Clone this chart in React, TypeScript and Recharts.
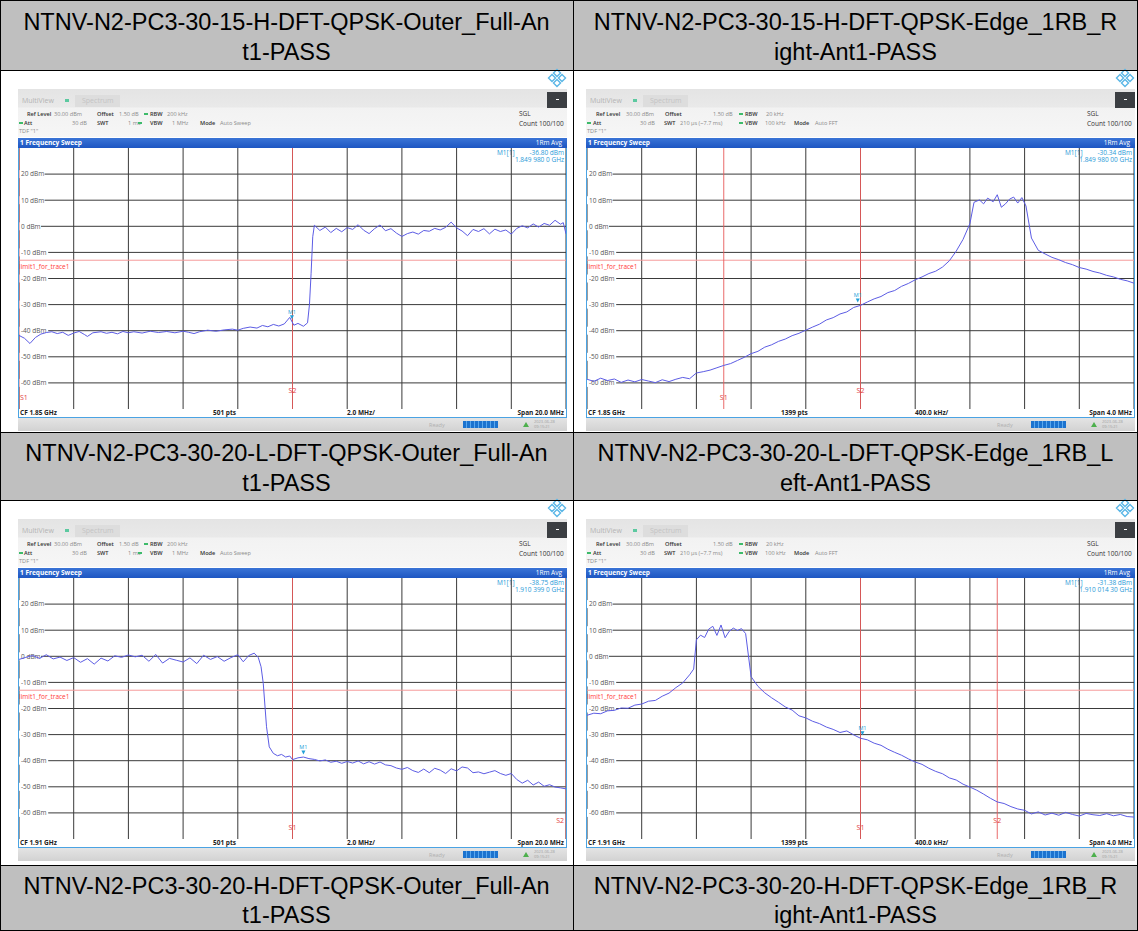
import React from "react";
import { LineChart, Line, XAxis, YAxis, ReferenceLine, ReferenceDot } from "recharts";

// ---------- data ----------
const levelTicks = [20, 10, 0, -10, -20, -30, -40, -50, -60];
const limitLevel = -13;

const ticksWide185 = [1840, 1842, 1844, 1846, 1848, 1850, 1852, 1854, 1856, 1858, 1860];
const ticksNarrow185 = [1848, 1848.4, 1848.8, 1849.2, 1849.6, 1850, 1850.4, 1850.8, 1851.2, 1851.6, 1852];
const ticksWide191 = [1900, 1902, 1904, 1906, 1908, 1910, 1912, 1914, 1916, 1918, 1920];
const ticksNarrow191 = [1908, 1908.4, 1908.8, 1909.2, 1909.6, 1910, 1910.4, 1910.8, 1911.2, 1911.6, 1912];

const titles = [
  ["NTNV-N2-PC3-30-15-H-DFT-QPSK-Outer_Full-An", "t1-PASS"],
  ["NTNV-N2-PC3-30-15-H-DFT-QPSK-Edge_1RB_R", "ight-Ant1-PASS"],
  ["NTNV-N2-PC3-30-20-L-DFT-QPSK-Outer_Full-An", "t1-PASS"],
  ["NTNV-N2-PC3-30-20-L-DFT-QPSK-Edge_1RB_L", "eft-Ant1-PASS"],
  ["NTNV-N2-PC3-30-20-H-DFT-QPSK-Outer_Full-An", "t1-PASS"],
  ["NTNV-N2-PC3-30-20-H-DFT-QPSK-Edge_1RB_R", "ight-Ant1-PASS"],
];

// panel 1: 1.85 GHz, full allocation, 20 MHz span
const p1Freq = [
  1840.0, 1840.2, 1840.4, 1840.6, 1840.8, 1841.0, 1841.2, 1841.4, 1841.6, 1841.8,
  1842.0, 1842.2, 1842.4, 1842.5, 1842.7, 1843.0, 1843.2, 1843.4, 1843.6, 1843.8,
  1844.0, 1844.2, 1844.5, 1844.8, 1845.1, 1845.4, 1845.7, 1846.0, 1846.2, 1846.4,
  1846.6, 1846.9, 1847.2, 1847.5, 1847.8, 1848.0, 1848.2, 1848.45, 1848.7, 1848.9,
  1849.1, 1849.3, 1849.5, 1849.7, 1849.9, 1850.05, 1850.2, 1850.4, 1850.55, 1850.62,
  1850.68, 1850.74, 1850.8, 1851.0, 1851.2, 1851.4, 1851.6, 1851.8, 1852.0, 1852.2,
  1852.4, 1852.6, 1852.8, 1853.0, 1853.2, 1853.4, 1853.6, 1853.8, 1854.0, 1854.2,
  1854.4, 1854.6, 1854.8, 1855.0, 1855.2, 1855.4, 1855.6, 1855.8, 1856.0, 1856.2,
  1856.4, 1856.6, 1856.8, 1857.0, 1857.2, 1857.4, 1857.6, 1857.8, 1858.0, 1858.2,
  1858.4, 1858.6, 1858.8, 1859.0, 1859.2, 1859.4, 1859.6, 1859.8, 1859.9, 1860.0,
];
const p1Level = [
  -41.8, -42.9, -44.9, -42.6, -41.3, -40.7, -40.4, -41.1, -40.6, -41.8,
  -40.9, -40.3, -41.5, -42.2, -40.8, -40.4, -41.0, -40.6, -41.2, -40.3,
  -40.8, -40.4, -40.9, -40.2, -40.7, -40.3, -40.8, -40.2, -40.6, -41.1,
  -40.4, -39.8, -40.2, -39.7, -39.4, -39.8, -39.1, -38.6, -39.0, -38.0,
  -38.5, -37.6, -38.2, -37.4, -34.9, -37.9, -37.2, -38.3, -37.0, -30.0,
  -18.0, -4.0, 0.4, -1.6, -0.3, -2.4, -0.8, -2.1, -0.5, -1.2,
  0.6, -1.5, -2.8, -0.9, 0.5, -1.7, -0.9, -2.6, -3.9, -2.8,
  -2.2, -3.0, -1.6, -1.9, -0.8, -1.4, -0.4, 1.6, -0.6, -1.8,
  -3.6, -1.2, -2.0, -0.9, -2.9, -1.1, -2.0, -1.4, -3.0, -0.8,
  0.2, -0.6, 0.9, -0.3, 1.1, 0.4, 2.3, 0.8, 1.4, -2.9,
];

// panel 2: 1.85 GHz, 1 RB at right edge, 4 MHz span
const p2Freq = [
  1848.0, 1848.05, 1848.1, 1848.15, 1848.2, 1848.25, 1848.3, 1848.35, 1848.4, 1848.45,
  1848.5, 1848.55, 1848.6, 1848.65, 1848.7, 1848.75, 1848.8, 1848.85, 1848.9, 1848.95,
  1849.0, 1849.05, 1849.1, 1849.15, 1849.2, 1849.25, 1849.3, 1849.35, 1849.4, 1849.45,
  1849.5, 1849.55, 1849.6, 1849.65, 1849.7, 1849.75, 1849.8, 1849.85, 1849.9, 1849.95,
  1850.0, 1850.05, 1850.1, 1850.15, 1850.2, 1850.25, 1850.3, 1850.35, 1850.4, 1850.45,
  1850.5, 1850.55, 1850.6, 1850.65, 1850.7, 1850.75, 1850.8, 1850.83, 1850.87, 1850.9,
  1850.93, 1850.97, 1851.0, 1851.03, 1851.06, 1851.09, 1851.12, 1851.15, 1851.18, 1851.21,
  1851.25, 1851.3, 1851.35, 1851.4, 1851.45, 1851.5, 1851.55, 1851.6, 1851.65, 1851.7,
  1851.75, 1851.8, 1851.85, 1851.9, 1851.95, 1852.0,
];
const p2Level = [
  -58.6, -59.4, -58.2, -59.1, -58.5, -59.8, -58.9, -59.6, -58.7, -59.3,
  -59.9, -58.8, -59.5, -58.6, -57.9, -58.4, -56.2, -55.7, -55.1, -54.2,
  -53.3, -52.6, -51.4, -50.2, -48.8, -47.9, -46.3, -45.4, -44.1, -43.2,
  -41.9, -41.0, -39.8, -38.6, -37.5, -35.9, -35.0, -33.6, -32.8, -31.1,
  -30.3, -29.0, -27.8, -26.9, -25.4, -24.6, -23.0, -21.9, -20.5, -19.4,
  -18.1, -17.2, -15.6, -13.2, -9.5, -5.0, 1.0, 9.2, 10.1, 8.6,
  10.8, 9.4, 12.1, 7.3, 8.6, 10.4, 11.2, 8.9, 11.0, 7.8,
  -4.5, -9.2, -10.6, -11.9, -12.8, -13.9, -14.7, -15.8, -16.4, -17.3,
  -17.9, -18.8, -19.4, -20.3, -20.9, -21.8,
];

// panel 3: 1.91 GHz, full allocation, 20 MHz span
const p3Freq = [
  1900.0, 1900.25, 1900.5, 1900.75, 1901.0, 1901.25, 1901.5, 1901.75, 1902.0, 1902.25,
  1902.5, 1902.75, 1903.0, 1903.25, 1903.5, 1903.75, 1904.0, 1904.25, 1904.5, 1904.75,
  1905.0, 1905.25, 1905.5, 1905.75, 1906.0, 1906.25, 1906.5, 1906.75, 1907.0, 1907.25,
  1907.5, 1907.75, 1908.0, 1908.2, 1908.4, 1908.6, 1908.75, 1908.85, 1908.93, 1909.0,
  1909.05, 1909.15, 1909.3, 1909.45, 1909.6, 1909.75, 1909.9, 1910.0, 1910.2, 1910.4,
  1910.6, 1910.8, 1911.0, 1911.2, 1911.4, 1911.6, 1911.8, 1912.0, 1912.2, 1912.4,
  1912.6, 1912.8, 1913.0, 1913.2, 1913.4, 1913.6, 1913.8, 1914.0, 1914.2, 1914.4,
  1914.6, 1914.8, 1915.0, 1915.2, 1915.4, 1915.6, 1915.8, 1916.0, 1916.2, 1916.4,
  1916.6, 1916.8, 1917.0, 1917.2, 1917.4, 1917.6, 1917.8, 1918.0, 1918.2, 1918.4,
  1918.6, 1918.8, 1919.0, 1919.2, 1919.4, 1919.6, 1919.8, 1920.0,
];
const p3Level = [
  -1.2, -0.4, 0.3, -0.8, 0.6, -1.0, -0.3, -1.6, -0.5, -2.3,
  -0.9, -3.0, -0.7, -1.8, 0.2, -0.4, 0.5, -0.2, 0.4, -1.9,
  0.7, -2.6, -0.8, -1.5, -2.2, -0.6, -2.8, 0.4, -1.2, -0.1,
  -1.9, -0.5, 0.6, -2.1, 0.3, 1.2, -0.5, -4.0, -10.3, -20.0,
  -27.0, -34.7, -37.2, -38.1, -37.6, -38.6, -38.2, -39.6, -38.9, -38.6,
  -39.2, -39.5, -40.1, -39.7, -40.6, -40.2, -41.0, -40.3, -40.9, -40.1,
  -41.2, -40.4, -41.3, -40.5, -41.6, -41.9, -42.8, -43.3, -42.6, -43.8,
  -44.5, -43.2, -44.6, -42.9, -43.6, -44.9, -43.1, -43.9, -42.4, -42.8,
  -44.6, -44.3, -45.0, -44.4, -43.8, -44.9, -45.6, -44.9, -47.2, -48.6,
  -47.5, -49.3, -48.2, -49.8, -49.2, -50.1, -50.4, -50.8,
];

// panel 4: 1.91 GHz, 1 RB at left edge, 4 MHz span
const p4Freq = [
  1908.0, 1908.05, 1908.1, 1908.15, 1908.2, 1908.25, 1908.3, 1908.35, 1908.4, 1908.45,
  1908.5, 1908.55, 1908.6, 1908.65, 1908.7, 1908.75, 1908.78, 1908.8, 1908.83, 1908.86,
  1908.89, 1908.92, 1908.95, 1908.98, 1909.01, 1909.04, 1909.07, 1909.1, 1909.13, 1909.16,
  1909.2, 1909.25, 1909.3, 1909.35, 1909.4, 1909.45, 1909.5, 1909.55, 1909.6, 1909.65,
  1909.7, 1909.75, 1909.8, 1909.85, 1909.9, 1909.95, 1910.0, 1910.05, 1910.1, 1910.15,
  1910.2, 1910.25, 1910.3, 1910.35, 1910.4, 1910.45, 1910.5, 1910.55, 1910.6, 1910.65,
  1910.7, 1910.75, 1910.8, 1910.85, 1910.9, 1910.95, 1911.0, 1911.05, 1911.1, 1911.15,
  1911.2, 1911.25, 1911.3, 1911.35, 1911.4, 1911.45, 1911.5, 1911.55, 1911.6, 1911.65,
  1911.7, 1911.75, 1911.8, 1911.85, 1911.9, 1911.95, 1912.0,
];
const p4Level = [
  -22.6, -21.8, -22.0, -20.9, -20.7, -19.8, -19.9, -18.7, -18.3, -17.2,
  -16.9, -15.3, -14.1, -12.0, -10.2, -7.1, -4.9, 6.3, 8.1, 7.2,
  10.4, 11.5, 8.0, 12.0, 7.1, 9.6, 10.8, 9.9, 10.6, 8.7,
  -7.8, -11.5, -14.0, -15.9, -17.6, -19.4, -20.6, -22.8, -23.6, -24.9,
  -25.8, -27.1, -28.0, -29.2, -28.6, -30.1, -31.4, -32.0, -33.3, -34.1,
  -35.6, -36.8, -37.9, -39.3, -40.5, -41.4, -42.9, -44.1, -45.0, -46.6,
  -47.4, -49.0, -50.1, -51.3, -52.8, -54.4, -55.8, -56.4, -57.6, -58.5,
  -59.0, -60.4, -59.6, -60.8, -60.1, -60.9, -59.8, -60.6, -61.2, -60.2,
  -60.7, -61.0, -60.3, -61.1, -60.6, -61.4, -61.6,
];

// ---------- panel settings (built from the arrays above) ----------
const wideSettings = {
  ref: [
    { t: "Ref Level", b: true, x: 9 }, { t: "30.00 dBm", x: 36 }, { t: "Offset", b: true, x: 79 },
    { t: "1.50 dB", x: 101 }, { dot: true, x: 126 }, { t: "RBW", b: true, x: 132 }, { t: "200 kHz", x: 149 },
  ],
  att: [
    { dot: true, x: 1 }, { t: "Att", b: true, x: 6 }, { t: "30 dB", x: 54 }, { t: "SWT", b: true, x: 79 },
    { t: "1 ms", x: 110 }, { dot: true, x: 120 }, { t: "VBW", b: true, x: 132 }, { t: "1 MHz", x: 154 },
    { t: "Mode", b: true, x: 182 }, { t: "Auto Sweep", x: 202 },
  ],
  pts: "501 pts",
  perDiv: "2.0 MHz/",
  span: "Span 20.0 MHz",
};
const narrowSettings = {
  ref: [
    { t: "Ref Level", b: true, x: 10 }, { t: "30.00 dBm", x: 40 }, { t: "Offset", b: true, x: 79 },
    { t: "1.50 dB", x: 127 }, { dot: true, x: 153 }, { t: "RBW", b: true, x: 159 }, { t: "20 kHz", x: 180 },
  ],
  att: [
    { dot: true, x: 1 }, { t: "Att", b: true, x: 7 }, { t: "30 dB", x: 54 }, { t: "SWT", b: true, x: 78 },
    { t: "210 µs (~7.7 ms)", x: 94 }, { dot: true, x: 153 }, { t: "VBW", b: true, x: 159 },
    { t: "100 kHz", x: 179 }, { t: "Mode", b: true, x: 208 }, { t: "Auto FFT", x: 229 },
  ],
  pts: "1399 pts",
  perDiv: "400.0 kHz/",
  span: "Span 4.0 MHz",
};

const panels = [
  {
    ...wideSettings, left: 18, top: 70, lo: 1840, hi: 1860, ticks: ticksWide185, freq: p1Freq, level: p1Level,
    s1: 1840, s2: 1850, marker: [1849.98, -36.8], mVal: "-36.80 dBm", mFreq: "1.849 980 0 GHz", cf: "CF 1.85 GHz",
  },
  {
    ...narrowSettings, left: 586, top: 70, lo: 1848, hi: 1852, ticks: ticksNarrow185, freq: p2Freq, level: p2Level,
    s1: 1849, s2: 1850, marker: [1849.98, -30.34], mVal: "-30.34 dBm", mFreq: "1.849 980 00 GHz", cf: "CF 1.85 GHz",
  },
  {
    ...wideSettings, left: 18, top: 500, lo: 1900, hi: 1920, ticks: ticksWide191, freq: p3Freq, level: p3Level,
    s1: 1910, s2: 1920, marker: [1910.399, -38.75], mVal: "-38.75 dBm", mFreq: "1.910 399 0 GHz", cf: "CF 1.91 GHz",
  },
  {
    ...narrowSettings, left: 586, top: 500, lo: 1908, hi: 1912, ticks: ticksNarrow191, freq: p4Freq, level: p4Level,
    s1: 1910, s2: 1911, marker: [1910.0143, -31.38], mVal: "-31.38 dBm", mFreq: "1.910 014 30 GHz", cf: "CF 1.91 GHz",
  },
];

// ---------- small svg pieces ----------
function DbLabel(props: any) {
  const vb = props.viewBox || {};
  const w = props.text.length * 3.6 + 4;
  return (
    <g>
      <rect x={vb.x} y={vb.y - 4} width={w} height={8} fill="#ffffff" />
      <text x={vb.x + 2} y={vb.y + 2.3} fontSize={6.5} fill="#555" fontFamily='"Open Sans", sans-serif'>
        {props.text}
      </text>
    </g>
  );
}

function LimitLabel(props: any) {
  const vb = props.viewBox || {};
  return (
    <text x={vb.x} y={vb.y + 8.5} fontSize={6.5} fill="#ff3a3a" fontFamily='"Open Sans", sans-serif'>
      limit1_for_trace1
    </text>
  );
}

function SLabel(props: any) {
  const vb = props.viewBox || {};
  const edge = props.edge;
  const anchor = edge === "left" ? "start" : edge === "right" ? "end" : "middle";
  const dx = edge === "left" ? 1 : edge === "right" ? -2 : 0;
  return (
    <text x={vb.x + dx} y={vb.y + vb.height - props.lift} fontSize={7} fill="#e23c3c" textAnchor={anchor}
      fontFamily='"Open Sans", sans-serif'>
      {props.text}
    </text>
  );
}

function MarkerShape(props: any) {
  const { cx, cy } = props;
  return (
    <g>
      <polygon points={`${cx - 2},${cy - 7} ${cx + 2},${cy - 7} ${cx},${cy - 3}`} fill="#22a0d8" />
      <text x={cx} y={cy - 8.5} fontSize={5.5} fill="#22a0d8" textAnchor="middle" fontFamily='"Open Sans", sans-serif'>
        M1
      </text>
    </g>
  );
}

function Logo() {
  const c = "#59b6e6";
  const d = (x: number, y: number) => `${x},${y - 3.5} ${x + 3.5},${y} ${x},${y + 3.5} ${x - 3.5},${y}`;
  return (
    <svg width={20} height={20} style={{ position: "absolute", left: 529, top: -2 }}>
      <polygon points={d(10, 5)} fill="none" stroke={c} strokeWidth={1.4} />
      <polygon points={d(5, 10)} fill="none" stroke={c} strokeWidth={1.4} />
      <polygon points={d(15, 10)} fill="none" stroke={c} strokeWidth={1.4} />
      <polygon points={d(10, 15)} fill="none" stroke={c} strokeWidth={1.4} />
    </svg>
  );
}

// ---------- one analyzer screenshot ----------
function Analyzer({ p }: { p: any }) {
  const data = p.freq.map((f: number, i: number) => ({ f, v: p.level[i] }));
  const txt: React.CSSProperties = { position: "absolute", fontSize: 6.5, lineHeight: "8px", whiteSpace: "nowrap" };
  const row = (items: any[], top: number) =>
    items.map((it, i) =>
      it.dot ? (
        <div key={i} style={{ position: "absolute", left: it.x, top: top + 3, width: 4, height: 2, background: "#3dbb6a" }} />
      ) : (
        <div key={i} style={{ ...txt, fontSize: 5.6, left: it.x, top, color: it.b ? "#333" : "#8a8a8a", fontWeight: it.b ? 600 : 400 }}>
          {it.t}
        </div>
      )
    );
  return (
    <div style={{ position: "absolute", left: p.left, top: p.top, width: 549, height: 362, fontFamily: '"Open Sans", sans-serif' }}>
      <Logo />
      {/* toolbar */}
      <div style={{ position: "absolute", left: 0, top: 19, width: 549, height: 48,
        background: "linear-gradient(to bottom, #e4e4e4 0px, #e9e9e9 18px, #f2f2f2 19px, #f6f6f6 100%)" }} />
      <div style={{ position: "absolute", left: 57, top: 25, width: 45, height: 12, background: "#dddddd" }} />
      <div style={{ ...txt, left: 4, top: 27, fontSize: 7, color: "#b4b4b4" }}>MultiView</div>
      <div style={{ position: "absolute", left: 47, top: 29, width: 4, height: 3, background: "#5cc9a0" }} />
      <div style={{ ...txt, left: 64, top: 27, fontSize: 7, color: "#c4c4c4" }}>Spectrum</div>
      <div style={{ position: "absolute", left: 529, top: 22, width: 20, height: 16, background: "#3b3e42" }}>
        <div style={{ position: "absolute", left: 9, top: 7, width: 3, height: 1, background: "#fff" }} />
      </div>
      {row(p.ref, 40)}
      {row(p.att, 49)}
      <div style={{ ...txt, left: 1, top: 57, fontSize: 5.6, color: "#8a8a8a" }}>TDF "1"</div>
      <div style={{ ...txt, left: 501, top: 40, color: "#333" }}>SGL</div>
      <div style={{ ...txt, left: 501, top: 50, color: "#333" }}>Count 100/100</div>

      {/* frame and title bar */}
      <div style={{ position: "absolute", left: 0, top: 68, width: 547, height: 279, border: "1px solid #4aa3e3", borderTop: "none" }} />
      <div style={{ position: "absolute", left: 0, top: 67.5, width: 549, height: 10, background: "linear-gradient(#3a74d6, #1d56c2)" }} />
      <div style={{ ...txt, left: 2, top: 68.5, color: "#fff", fontWeight: 700 }}>1 Frequency Sweep</div>
      <div style={{ ...txt, right: 5, top: 68.5, color: "#fff" }}>1Rm Avg</div>

      {/* marker table */}
      <div style={{ ...txt, left: 479, top: 79, color: "#1f9ad8" }}>M1[1]</div>
      <div style={{ ...txt, right: 3, top: 79, color: "#1f9ad8" }}>{p.mVal}</div>
      <div style={{ ...txt, right: 3, top: 86, color: "#1f9ad8" }}>{p.mFreq}</div>

      {/* plot */}
      <div style={{ position: "absolute", left: 1, top: 78, width: 547, height: 261 }}>
        <LineChart width={547} height={261} data={data} margin={{ top: 0, right: 0, bottom: 0, left: 0 }}>
          <XAxis type="number" dataKey="f" domain={[p.lo, p.hi]} hide allowDataOverflow />
          <YAxis type="number" domain={[-70, 30]} hide allowDataOverflow />
          {p.ticks.map((t: number) => (
            <ReferenceLine key={"x" + t} x={t} stroke="#3a3a3a" strokeWidth={1} />
          ))}
          {levelTicks.map((t) => (
            <ReferenceLine key={"y" + t} y={t} stroke="#3a3a3a" strokeWidth={1} label={<DbLabel text={`${t} dBm`} />} />
          ))}
          <ReferenceLine y={limitLevel} stroke="#f59a9a" strokeWidth={1} label={<LimitLabel />} />
          <ReferenceLine x={p.s1} stroke="#e65a5a" strokeWidth={0.9}
            label={<SLabel text="S1" lift={9.5} edge={p.s1 === p.lo ? "left" : "mid"} />} />
          <ReferenceLine x={p.s2} stroke="#e65a5a" strokeWidth={0.9}
            label={<SLabel text="S2" lift={16} edge={p.s2 === p.hi ? "right" : "mid"} />} />
          <Line type="linear" dataKey="v" stroke="#5c5ce4" strokeWidth={1} dot={false} isAnimationActive={false} />
          <ReferenceDot x={p.marker[0]} y={p.marker[1]} shape={(sp: any) => <MarkerShape {...sp} />} />
        </LineChart>
      </div>

      {/* bottom readout */}
      <div style={{ position: "absolute", left: 1, top: 339, width: 547, height: 8, background: "#fff" }} />
      <div style={{ ...txt, left: 2, top: 339, color: "#222", fontWeight: 700 }}>{p.cf}</div>
      <div style={{ ...txt, left: 195, top: 339, color: "#222", fontWeight: 700 }}>{p.pts}</div>
      <div style={{ ...txt, left: 329, top: 339, color: "#222", fontWeight: 700 }}>{p.perDiv}</div>
      <div style={{ ...txt, right: 3, top: 339, color: "#222", fontWeight: 700 }}>{p.span}</div>

      {/* status bar */}
      <div style={{ position: "absolute", left: 0, top: 348, width: 549, height: 13, background: "linear-gradient(#e4e4e4, #d2d2d2)" }} />
      <div style={{ ...txt, left: 411, top: 351, fontSize: 5.5, color: "#b0b0b0" }}>Ready</div>
      <div style={{ position: "absolute", left: 445, top: 351, width: 35, height: 7,
        background: "repeating-linear-gradient(90deg, #1c73cf 0px, #1c73cf 3px, #5aa8ee 3px, #5aa8ee 4px)" }} />
      <div style={{ position: "absolute", left: 505, top: 352, width: 0, height: 0,
        borderLeft: "3px solid transparent", borderRight: "3px solid transparent", borderBottom: "5px solid #4db04d" }} />
      <div style={{ ...txt, left: 516, top: 349, fontSize: 4, lineHeight: "5px", color: "#a0a0a0" }}>2023-06-28<br />09:15:21</div>
    </div>
  );
}

// ---------- page ----------
const headerRows = [
  { top: 0, height: 70, pad: 7, lh: 30 },
  { top: 432, height: 68, pad: 6, lh: 30 },
  { top: 865, height: 66, pad: 7, lh: 29 },
];
const colX = [0, 573];
const colW = [573, 565];

export default function App() {
  return (
    <div style={{ position: "absolute", left: 0, top: 0, width: 1138, height: 931, background: "#fff",
      fontFamily: '"Liberation Sans", Arial, sans-serif', overflow: "hidden" }}>
      {headerRows.map((r, ri) =>
        colX.map((x, ci) => (
          <div key={ri + "-" + ci} style={{ position: "absolute", left: x, top: r.top, width: colW[ci], height: r.height,
            background: "#bfbfbf", boxSizing: "border-box", paddingTop: r.pad, textAlign: "center", fontSize: 23.5,
            lineHeight: r.lh + "px", color: "#000", whiteSpace: "nowrap" }}>
            {titles[ri * 2 + ci][0]}
            <br />
            {titles[ri * 2 + ci][1]}
          </div>
        ))
      )}
      {panels.map((p, i) => (
        <Analyzer key={i} p={p} />
      ))}
      {/* table rules */}
      {[0, 573, 1137].map((x) => (
        <div key={"v" + x} style={{ position: "absolute", left: x, top: 0, width: 1, height: 931, background: "#000" }} />
      ))}
      {[0, 70, 432, 500, 865, 930].map((y) => (
        <div key={"h" + y} style={{ position: "absolute", left: 0, top: y, width: 1138, height: 1, background: "#000" }} />
      ))}
    </div>
  );
}
